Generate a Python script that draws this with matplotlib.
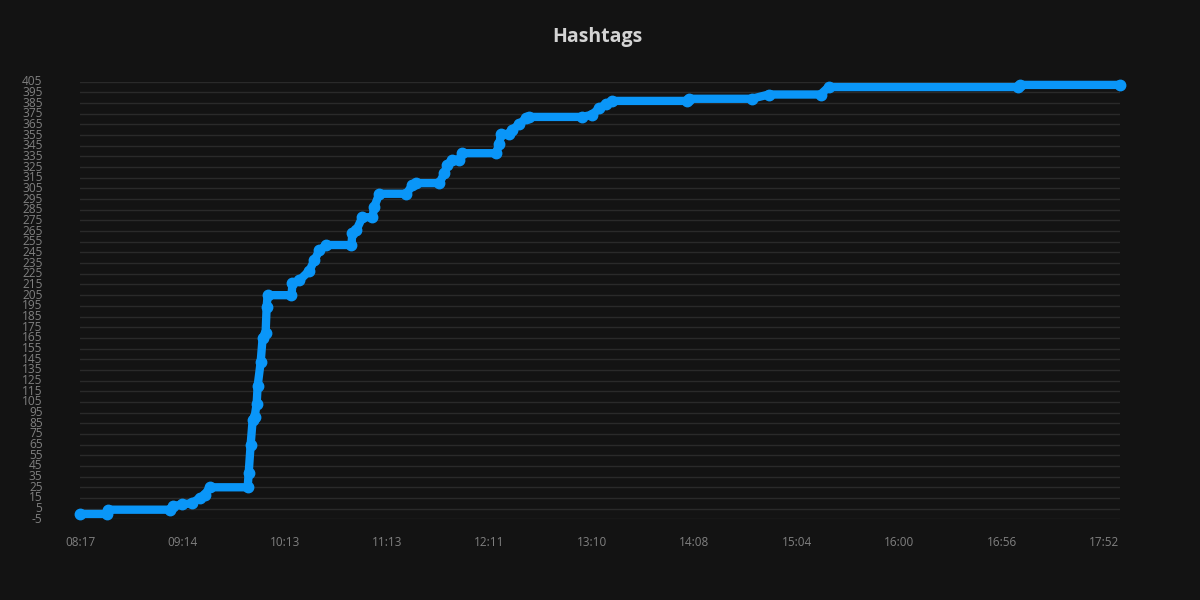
import matplotlib
matplotlib.use("Agg")
import matplotlib.pyplot as plt
import numpy as np

# clock time of each sample and the running hashtag count
times = [
    "08:17:00", "08:32:00", "08:32:34", "09:07:00", "09:08:40", "09:13:40",
    "09:19:24", "09:24:00", "09:26:53", "09:29:45", "09:51:36", "09:52:10",
    "09:53:19", "09:54:28", "09:55:37", "09:56:46", "09:57:21", "09:59:04",
    "10:00:13", "10:01:57", "10:02:32", "10:03:06", "10:16:55", "10:17:30",
    "10:21:36", "10:27:27", "10:30:22", "10:33:18", "10:37:24", "10:52:01",
    "10:52:36", "10:54:56", "10:58:27", "11:04:18", "11:05:28", "11:08:23",
    "11:23:51", "11:27:14", "11:29:30", "11:42:30", "11:45:20", "11:47:02",
    "11:49:52", "11:53:49", "11:55:31", "12:14:48", "12:16:31", "12:17:40",
    "12:22:16", "12:24:00", "12:28:01", "12:32:03", "12:33:46", "13:04:14",
    "13:10:00", "13:13:57", "13:17:55", "13:21:18", "14:03:42", "14:04:50",
    "14:39:20", "14:48:36", "15:16:59", "15:21:22", "17:05:04", "17:06:10",
    "18:00:44",
]
counts = [
    0, 0, 4, 4, 7, 9,
    10, 15, 18, 25, 25, 38,
    65, 88, 91, 103, 120, 142,
    165, 170, 194, 205, 205, 216,
    219, 228, 238, 247, 252, 252,
    263, 266, 278, 278, 288, 300,
    300, 308, 310, 310, 319, 327,
    332, 332, 338, 338, 347, 356,
    356, 360, 365, 371, 372, 372,
    374, 380, 384, 387, 387, 389,
    389, 393, 393, 400, 400, 402,
    402,
]
tick_labels = ["08:17", "09:14", "10:13", "11:13", "12:11", "13:10",
               "14:08", "15:04", "16:00", "16:56", "17:52"]
y_ticks = list(range(-5, 406, 10))

BG = "#131313"
LINE = "#0a96f8"
GRID = "#2a2a2a"
TICK = "#808080"


def to_minutes(s):
    parts = [int(p) for p in s.split(":")]
    while len(parts) < 3:
        parts.append(0)
    return parts[0] * 60 + parts[1] + parts[2] / 60.0


x = np.array([to_minutes(t) for t in times])
tick_min = np.array([to_minutes(t) for t in tick_labels])
tick_idx = np.arange(len(tick_min), dtype=float)


# category-like axis: labels are evenly spaced, time between them is not
def fwd(m):
    m = np.asarray(m, dtype=float)
    out = np.interp(m, tick_min, tick_idx)
    hi = m > tick_min[-1]
    out = np.where(hi, tick_idx[-1] + (m - tick_min[-1]) / (tick_min[-1] - tick_min[-2]), out)
    lo = m < tick_min[0]
    out = np.where(lo, (m - tick_min[0]) / (tick_min[1] - tick_min[0]), out)
    return out


def inv(p):
    p = np.asarray(p, dtype=float)
    out = np.interp(p, tick_idx, tick_min)
    hi = p > tick_idx[-1]
    out = np.where(hi, tick_min[-1] + (p - tick_idx[-1]) * (tick_min[-1] - tick_min[-2]), out)
    lo = p < 0
    out = np.where(lo, tick_min[0] + p * (tick_min[1] - tick_min[0]), out)
    return out


plt.rcParams["font.family"] = ["Open Sans", "DejaVu Sans"]
plt.rcParams["axes.unicode_minus"] = False

fig = plt.figure(figsize=(12, 6), dpi=100, facecolor=BG)
ax = fig.add_axes([80 / 1200, 1 - 519.3 / 600, 1040 / 1200, (519.3 - 81.7) / 600])
ax.set_facecolor(BG)
ax.set_xscale("function", functions=(fwd, inv))

ax.plot(x, counts, color=LINE, linewidth=6, marker="o", markersize=7.5,
        solid_capstyle="round", solid_joinstyle="round", clip_on=False, zorder=3)

ax.set_xlim(x[0], x[-1])
ax.set_ylim(-5, 405)
ax.set_xticks(tick_min)
ax.set_xticklabels(tick_labels)
ax.set_xticks([], minor=True)
ax.set_yticks(y_ticks)
ax.set_yticklabels([str(v) for v in y_ticks])
ax.set_yticks([], minor=True)

ax.grid(axis="y", color=GRID, linewidth=1)
ax.grid(axis="x", visible=False)
ax.set_axisbelow(True)
for s in ax.spines.values():
    s.set_visible(False)

ax.tick_params(axis="y", length=0, pad=27, labelsize=8.6, labelcolor=TICK)
ax.tick_params(axis="x", length=0, pad=12, labelsize=8.5, labelcolor=TICK)
for lab in ax.get_yticklabels():
    lab.set_verticalalignment("center")

fig.text(597 / 1200, 1 - 37 / 600, "Hashtags", ha="center", va="center",
         fontsize=14, fontweight="bold", color="#d4d4d4")

fig.savefig("out.png", dpi=100, facecolor=BG)
